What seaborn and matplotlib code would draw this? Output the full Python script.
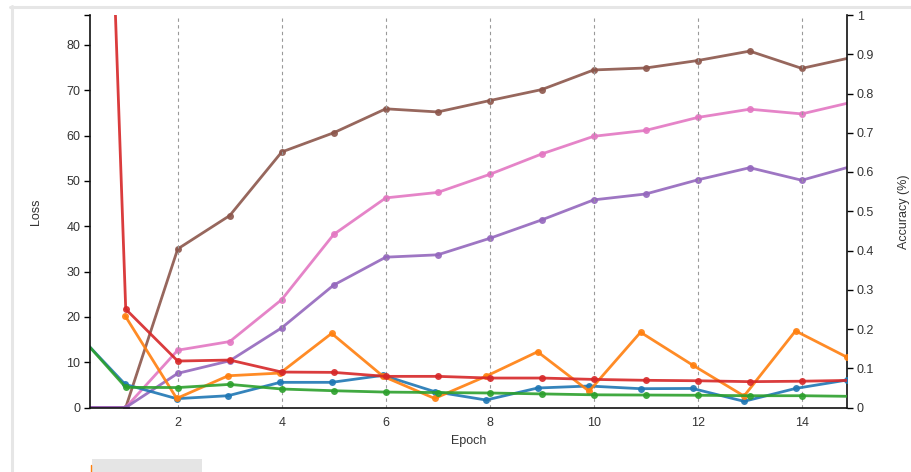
import matplotlib
matplotlib.use("Agg")
import matplotlib.pyplot as plt
import seaborn as sns
import pandas as pd
from matplotlib.lines import Line2D
from matplotlib.patches import Rectangle

sns.set_style("white")
plt.rcParams['font.family'] = ['Liberation Sans', 'DejaVu Sans']

# ---- data ----
epochs = [0, 1, 2, 3, 4, 5, 6, 7, 8, 9, 10, 11, 12, 13, 14, 15]
train_epochs = [0, 0.99, 1.98, 2.97, 3.97, 4.96, 5.95, 6.94, 7.93, 8.92,
                9.91, 10.90, 11.90, 12.89, 13.88, 14.87]

loss_red = [350, 21.7, 10.25, 10.47, 7.82, 7.75, 6.87, 6.87, 6.5, 6.5,
            6.2, 6.0, 5.9, 5.7, 5.8, 6.0]
loss_green = [17.3, 4.45, 4.4, 5.1, 4.08, 3.7, 3.4, 3.3, 3.2, 3.0,
              2.8, 2.75, 2.7, 2.6, 2.6, 2.45]
loss_blue = [17.1, 5.1, 1.95, 2.6, 5.55, 5.55, 7.1, 3.5, 1.65, 4.3,
             4.74, 4.15, 4.2, 1.36, 4.2, 6.06]
loss_orange = [20.2, 2.0, 7.0, 7.6, 16.35, 6.87, 2.0, 6.9, 12.3, 3.6,
               16.6, 9.37, 2.53, 16.9, 11.1]  # starts at epoch 1

acc_brown = [0, 0, 0.404, 0.489, 0.651, 0.700, 0.761, 0.753, 0.782, 0.810,
             0.860, 0.865, 0.884, 0.908, 0.864, 0.893]
acc_pink = [0, 0, 0.146, 0.168, 0.275, 0.441, 0.534, 0.548, 0.594, 0.646,
            0.691, 0.706, 0.739, 0.760, 0.748, 0.779]
acc_purple = [0, 0, 0.087, 0.119, 0.203, 0.312, 0.383, 0.389, 0.431, 0.478,
              0.529, 0.544, 0.580, 0.611, 0.579, 0.616]

x_ticks = [2, 4, 6, 8, 10, 12, 14]
loss_ticks = [0, 10, 20, 30, 40, 50, 60, 70, 80]
acc_ticks = [0, 0.1, 0.2, 0.3, 0.4, 0.5, 0.6, 0.7, 0.8, 0.9, 1]

colors = {
    'blue': '#1f77b4', 'orange': '#ff7f0e', 'green': '#2ca02c', 'red': '#d62728',
    'purple': '#9467bd', 'brown': '#8c564b', 'pink': '#e377c2',
}

XMIN, XMAX = 0.313, 14.87
LOSS_MAX = 86.6

W, H = 911, 472
fig = plt.figure(figsize=(W / 100, H / 100), dpi=100)
ax = fig.add_axes([90 / W, (H - 407.5) / H, 757 / W, 392.5 / H])
ax2 = ax.twinx()

line_kw = dict(marker='o', markersize=5, markeredgewidth=0, linewidth=2.0,
               alpha=0.9, sort=False, estimator=None)

# accuracy series (right axis)
for vals, c in [(acc_brown, 'brown'), (acc_pink, 'pink'), (acc_purple, 'purple')]:
    df = pd.DataFrame({'epoch': epochs, 'value': vals})
    sns.lineplot(data=df, x='epoch', y='value', ax=ax2, color=colors[c], **line_kw)

# loss series (left axis)
for xs, vals, c in [(train_epochs, loss_blue, 'blue'),
                    (train_epochs[1:], loss_orange, 'orange'),
                    (epochs, loss_green, 'green'),
                    (epochs, loss_red, 'red')]:
    df = pd.DataFrame({'epoch': xs, 'value': vals})
    sns.lineplot(data=df, x='epoch', y='value', ax=ax, color=colors[c], **line_kw)

ax.set_zorder(ax2.get_zorder() + 1)
ax.patch.set_visible(False)

for x in x_ticks:
    ax.axvline(x, color='#999999', lw=0.8, ls=(0, (3, 3)), zorder=0)

ax.set_xlim(XMIN, XMAX)
ax.set_ylim(0, LOSS_MAX)
ax2.set_ylim(0, 1)
ax2.set_xlim(XMIN, XMAX)

tick_col = '#333333'
ax.set_xticks([XMIN] + x_ticks + [XMAX])
ax.set_xticklabels([''] + [str(t) for t in x_ticks] + [''])
ax.set_yticks(loss_ticks + [LOSS_MAX])
ax.set_yticklabels([str(t) for t in loss_ticks] + [''])
ax2.set_yticks(acc_ticks)
ax2.set_yticklabels(['0'] + [f'{t:g}' for t in acc_ticks[1:]])

for a in (ax, ax2):
    a.tick_params(axis='both', length=4.5, width=1.0, color='#000000',
                  labelsize=9, labelcolor=tick_col, pad=2.5)
    a.grid(False)

for s in ['top', 'right']:
    ax.spines[s].set_visible(False)
for s in ['top', 'left', 'bottom']:
    ax2.spines[s].set_visible(False)
ax.spines['left'].set_linewidth(1.2)
ax.spines['bottom'].set_linewidth(1.2)
ax2.spines['right'].set_linewidth(1.2)
ax.spines['left'].set_color('#111111')
ax.spines['bottom'].set_color('#111111')
ax2.spines['right'].set_color('#111111')

ax.set_xlabel('')
ax.set_ylabel('')
ax2.set_ylabel('')
fig.text(469 / W, 1 - 441 / H, 'Epoch', fontsize=9, color=tick_col,
         ha='center', va='center')
fig.text(35.5 / W, 1 - 212 / H, 'Loss', fontsize=9, color=tick_col,
         ha='center', va='center', rotation=90)
fig.text(903.5 / W, 1 - 212 / H, 'Accuracy (%)', fontsize=9, color=tick_col,
         ha='center', va='center', rotation=90)

# frame and cut-off legend remnants
fig.add_artist(Line2D([10 / W, 1], [1 - 6.5 / H, 1 - 6.5 / H], color='#e6e6e6', lw=2.2,
                      transform=fig.transFigure))
fig.add_artist(Line2D([11.5 / W, 11.5 / W], [0, 1 - 6 / H], color='#e6e6e6', lw=2.2,
                      transform=fig.transFigure))
fig.add_artist(Rectangle((92 / W, 0), 110 / W, 13 / H, facecolor='#e5e5e5',
                         edgecolor='none', transform=fig.transFigure))
fig.add_artist(Line2D([91 / W, 91 / W], [0, 7 / H], color='#ff7f0e', lw=1.0,
                      transform=fig.transFigure))

fig.savefig('out.png', dpi=100)
